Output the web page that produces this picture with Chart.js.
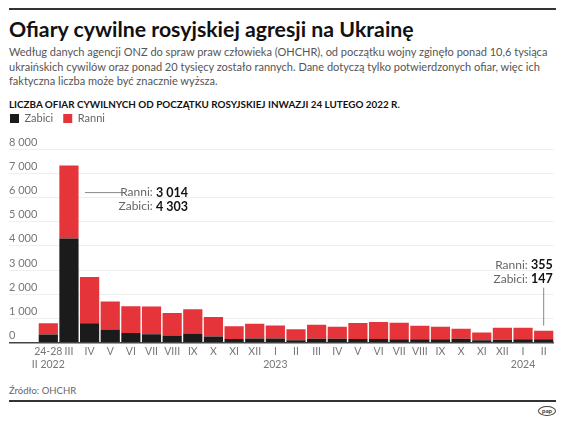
<!DOCTYPE html>
<html lang="pl">
<head>
<meta charset="UTF-8">
<title>Ofiary cywilne</title>
<script src="https://cdn.jsdelivr.net/npm/chart.js"></script>
<style>
  body { margin: 0; width: 564px; height: 423px; background: #fff; font-family: Lato, sans-serif; position: relative; overflow: hidden; }
  .rule { position: absolute; left: 9px; width: 547px; height: 1.5px; background: #333; }
  #title { position: absolute; left: 9px; top: 16px; font-size: 21px; font-weight: 700; color: #111; white-space: nowrap; }
  #desc { position: absolute; left: 9px; top: 45px; font-size: 12px; line-height: 14.5px; color: #555; white-space: nowrap; }
  #head { position: absolute; left: 9px; top: 98px; font-size: 10px; font-weight: 700; color: #111; white-space: nowrap; }
  #wrap { position: absolute; left: 0; top: 103px; width: 564px; height: 271px; }
  #src { position: absolute; left: 9px; top: 385px; font-size: 9.5px; color: #666; }
  #logo { position: absolute; left: 538px; top: 406px; width: 16px; height: 8px; border: 1px solid #444; border-radius: 50%; font-size: 6px; font-weight: 700; line-height: 8px; text-align: center; color: #333; }
</style>
</head>
<body>
<div class="rule" style="top:8px"></div>
<div id="title">Ofiary cywilne rosyjskiej agresji na Ukrainę</div>
<div id="desc">Według danych agencji ONZ do spraw praw człowieka (OHCHR), od początku wojny zginęło ponad 10,6 tysiąca<br>ukraińskich cywilów oraz ponad 20 tysięcy zostało rannych. Dane dotyczą tylko potwierdzonych ofiar, więc ich<br>faktyczna liczba może być znacznie wyższa.</div>
<div id="head">LICZBA OFIAR CYWILNYCH OD POCZĄTKU ROSYJSKIEJ INWAZJI 24 LUTEGO 2022 R.</div>
<div id="wrap"><canvas id="myChart"></canvas></div>
<div id="src">Źródło: OHCHR</div>
<div class="rule" style="top:400px"></div>
<div id="logo">pap</div>
<script>
    const months = [['24-28', 'II 2022'], 'III', 'IV', 'V', 'VI', 'VII', 'VIII', 'IX', 'X', 'XI', 'XII',
        ['I', '2023'], 'II', 'III', 'IV', 'V', 'VI', 'VII', 'VIII', 'IX', 'X', 'XI', 'XII',
        ['I', '2024'], 'II'];
    const killed = [340, 4303, 810, 550, 405, 350, 300, 380, 260, 155, 180,
        180, 110, 170, 170, 155, 155, 142, 142, 142, 170, 102, 130,
        142, 147];
    const injured = [470, 3014, 1910, 1160, 1100, 1150, 930, 1000, 810, 530, 610,
        530, 450, 570, 490, 665, 700, 690, 557, 518, 407, 325, 488,
        476, 355];
    const yTicks = [0, 1000, 2000, 3000, 4000, 5000, 6000, 7000, 8000];

    // squeeze header texts to the widths they have in the print version
    function fitWidth(id, w) {
        const el = document.getElementById(id);
        const size = parseFloat(getComputedStyle(el).fontSize);
        el.style.fontSize = (size * w / el.getBoundingClientRect().width) + 'px';
    }
    fitWidth('title', 405);
    fitWidth('desc', 539);
    fitWidth('head', 391);

    function fmt(v) {
        return String(v).replace(/\B(?=(\d{3})+(?!\d))/g, ' ');
    }

    // draws "Ranni: N / Zabici: N" right-aligned at x, first line at y
    function callout(ctx, x, y, i) {
        const rows = [['Ranni: ', fmt(injured[i])], ['Zabici: ', fmt(killed[i])]];
        ctx.textBaseline = 'middle';
        rows.forEach((r, k) => {
            ctx.font = 'bold 12.5px Lato';
            const w = ctx.measureText(r[1]).width;
            ctx.fillStyle = '#111';
            ctx.textAlign = 'right';
            ctx.fillText(r[1], x, y + k * 14);
            ctx.font = '12px Lato';
            ctx.fillStyle = '#666';
            ctx.fillText(r[0], x - w, y + k * 14);
        });
    }

    const notes = {
        id: 'notes',
        afterDatasetsDraw(chart) {
            const ctx = chart.ctx;
            const xs = chart.scales.x, ys = chart.scales.y;
            ctx.save();
            ctx.strokeStyle = '#888';
            ctx.lineWidth = 1;
            // March 2022
            const x1 = xs.getPixelForValue(1);
            const yl = ys.getPixelForValue(6200);
            ctx.beginPath();
            ctx.moveTo(x1 + 16, yl);
            ctx.lineTo(x1 + 56, yl);
            ctx.stroke();
            callout(ctx, x1 + 119, yl, 1);
            // last month
            const last = months.length - 1;
            const x2 = xs.getPixelForValue(last);
            const top = ys.getPixelForValue(killed[last] + injured[last]);
            ctx.beginPath();
            ctx.moveTo(x2, top - 5);
            ctx.lineTo(x2, top - 43);
            ctx.stroke();
            callout(ctx, x2 + 9, top - 66, last);
            ctx.restore();
        }
    };

    // extra room under the legend
    const legendGap = {
        id: 'legendGap',
        beforeInit(chart) {
            const fit = chart.legend.fit;
            chart.legend.fit = function () {
                fit.bind(chart.legend)();
                this.height += 15;
            };
        }
    };

    const ctx = document.getElementById('myChart').getContext('2d');
    const myChart = new Chart(ctx, {
        type: 'bar',
        data: {
            labels: months,
            datasets: [
                {
                    label: 'Zabici',
                    data: killed,
                    backgroundColor: '#1b1b1b',
                    barPercentage: 0.93,
                    categoryPercentage: 1
                },
                {
                    label: 'Ranni',
                    data: injured,
                    backgroundColor: '#e5343a',
                    barPercentage: 0.93,
                    categoryPercentage: 1
                }
            ]
        },
        options: {
            responsive: true,
            maintainAspectRatio: false,
            animation: false,
            layout: { padding: { left: 0, right: 10, top: 0, bottom: 0 } },
            scales: {
                x: {
                    stacked: true,
                    grid: { display: false, drawTicks: false },
                    border: { display: false },
                    ticks: {
                        color: '#777',
                        font: { family: 'Lato', size: 10.5 },
                        padding: 3,
                        maxRotation: 0,
                        autoSkip: false
                    }
                },
                y: {
                    stacked: true,
                    min: 0,
                    max: 8000,
                    afterBuildTicks: (scale) => { scale.ticks = yTicks.map(v => ({ value: v })); },
                    afterFit: (scale) => { scale.width = 38; },
                    border: { display: false },
                    grid: {
                        color: (c) => c.tick && c.tick.value === 0 ? '#444' : '#efefef',
                        tickColor: (c) => c.tick && c.tick.value === 0 ? '#444' : '#efefef',
                        lineWidth: (c) => c.tick && c.tick.value === 0 ? 1.5 : 1,
                        tickLength: 29
                    },
                    ticks: {
                        mirror: true,
                        crossAlign: 'near',
                        padding: -29,
                        labelOffset: -7,
                        color: '#777',
                        font: { family: 'Lato', size: 11 },
                        callback: (v) => fmt(v)
                    }
                }
            },
            plugins: {
                legend: {
                    position: 'top',
                    align: 'start',
                    labels: {
                        boxWidth: 9,
                        boxHeight: 9,
                        color: '#666',
                        font: { family: 'Lato', size: 11 },
                        padding: 10
                    }
                },
                tooltip: { enabled: false }
            }
        },
        plugins: [notes, legendGap]
    });
</script>
</body>
</html>
